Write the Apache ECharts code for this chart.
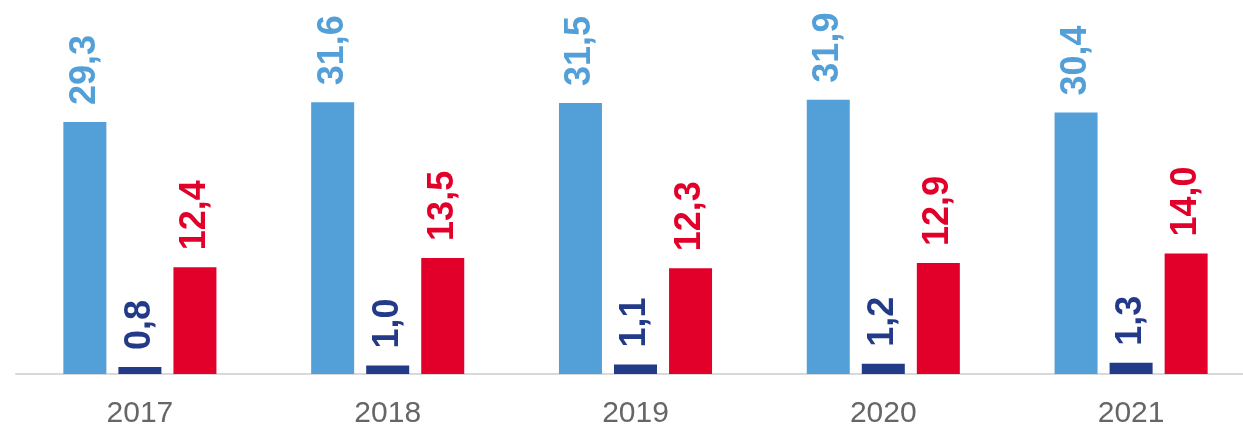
<!DOCTYPE html>
<html>
<head>
<meta charset="utf-8">
<script src="https://cdn.jsdelivr.net/npm/echarts@6/dist/echarts.min.js"></script>
<style>
  html, body { margin: 0; padding: 0; background: #fff; }
  #chart { width: 1243px; height: 426px; }
</style>
</head>
<body>
<div id="chart"></div>
<script>
const years = ['2017', '2018', '2019', '2020', '2021']
const seriesA = [29.3, 31.6, 31.5, 31.9, 30.4]
const seriesB = [0.8, 1.0, 1.1, 1.2, 1.3]
const seriesC = [12.4, 13.5, 12.3, 12.9, 14.0]

const colors = ['#539fd8', '#233a88', '#e2002a']

// label like "29,3" rotated upward above each bar
function barLabel (color) {
  return {
    show: true,
    position: 'top',
    rotate: 90,
    align: 'left',
    verticalAlign: 'middle',
    distance: 17,
    color: color,
    fontFamily: 'Liberation Sans, Arial, sans-serif',
    fontWeight: 'bold',
    fontSize: 36,
    formatter: p => p.value.toFixed(1).replace('.', ',')
  }
}

function makeSeries (data, i) {
  return {
    type: 'bar',
    data: data,
    barWidth: 43,
    barGap: '28%',
    itemStyle: { color: colors[i] },
    label: barLabel(colors[i])
  }
}

const myChart = echarts.init(document.getElementById('chart'))
myChart.setOption({
  animation: false,
  grid: {
    left: 16,
    top: 30,
    width: 1239,
    height: 344,
    outerBoundsMode: 'none',
    containLabel: false
  },
  xAxis: {
    type: 'category',
    data: years,
    axisLine: { lineStyle: { color: '#d9d9d9', width: 2 } },
    axisTick: { show: false },
    axisLabel: {
      color: '#666666',
      fontFamily: 'Liberation Sans, Arial, sans-serif',
      fontSize: 30,
      margin: 25
    }
  },
  yAxis: {
    type: 'value',
    min: 0,
    max: 40,
    show: false,
    splitLine: { show: false }
  },
  series: [
    makeSeries(seriesA, 0),
    makeSeries(seriesB, 1),
    makeSeries(seriesC, 2)
  ]
})
</script>
</body>
</html>
